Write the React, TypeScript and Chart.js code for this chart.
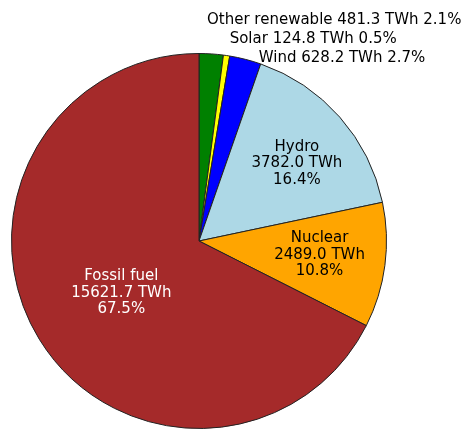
import React, { useEffect, useRef } from "react";
import { Chart, registerables } from "chart.js";

Chart.register(...registerables);

const categories = ["Other renewable", "Solar", "Wind", "Hydro", "Nuclear", "Fossil fuel"];
const valuesTWh = [481.3, 124.8, 628.2, 3782.0, 2489.0, 15621.7];
const unit = "TWh";

const colors = ["#008000", "#ffff00", "#0000ff", "#add8e6", "#ffa500", "#a52a2a"];
const textColors = ["#000", "#000", "#000", "#000", "#000", "#fff"];
// label placement: "in" = inside on mid angle at radial fraction; "out" = single line at offset (in radii) from center
const labelMode = ["out", "out", "out", "in", "in", "in"];
const labelRadial = [0, 0, 0, 0.667, 0.647, 0.498];
const labelAngleShiftDeg = [0, 0, 0, 2.85, -1.0, -2.1];
const outOffsets: [number, number][] = [
  [0.721, -1.178],
  [0.609, -1.078],
  [0.763, -0.976],
  [0, 0],
  [0, 0],
  [0, 0],
];

const FONT = "15px 'DejaVu Sans'";

const labelPlugin = {
  id: "pieLabels",
  afterDraw(chart: any) {
    const ctx = chart.ctx;
    const meta = chart.getDatasetMeta(0);
    const total = valuesTWh.reduce((a, b) => a + b, 0);
    ctx.save();
    ctx.font = FONT;
    ctx.textAlign = "center";
    ctx.textBaseline = "middle";
    meta.data.forEach((arc: any, i: number) => {
      const { x, y, startAngle, endAngle, outerRadius } = arc.getProps(
        ["x", "y", "startAngle", "endAngle", "outerRadius"],
        true
      );
      const v = valuesTWh[i];
      const pct = ((v / total) * 100).toFixed(1) + "%";
      const valStr = v.toFixed(1) + " " + unit;
      ctx.fillStyle = textColors[i];
      if (labelMode[i] === "in") {
        const mid = (startAngle + endAngle) / 2 + (labelAngleShiftDeg[i] * Math.PI) / 180;
        const f = labelRadial[i];
        const px = x + Math.cos(mid) * f * outerRadius;
        const py = y + Math.sin(mid) * f * outerRadius;
        const lines = [categories[i], valStr, pct];
        const lh = 16.5;
        lines.forEach((ln, k) => {
          ctx.fillText(ln, px, py + (k - 1) * lh);
        });
      } else {
        const [ox, oy] = outOffsets[i];
        ctx.fillText(`${categories[i]} ${valStr} ${pct}`, x + ox * outerRadius, y + oy * outerRadius);
      }
    });
    ctx.restore();
  },
};

export default function App() {
  const ref = useRef<HTMLCanvasElement>(null);
  useEffect(() => {
    const chart = new Chart(ref.current!, {
      type: "pie",
      data: {
        labels: categories,
        datasets: [
          {
            data: valuesTWh,
            backgroundColor: colors,
            borderColor: "#222",
            borderWidth: 1,
          },
        ],
      },
      options: {
        responsive: false,
        animation: false,
        events: [],
        layout: { padding: { left: 11, top: 53, right: 79, bottom: 1 } },
        plugins: {
          legend: { display: false },
          tooltip: { enabled: false },
        },
      },
      plugins: [labelPlugin],
    });
    return () => chart.destroy();
  }, []);
  return (
    <div style={{ position: "fixed", left: 0, top: 0, width: 466, height: 430, background: "#fff" }}>
      <canvas ref={ref} width={466} height={430} />
    </div>
  );
}
